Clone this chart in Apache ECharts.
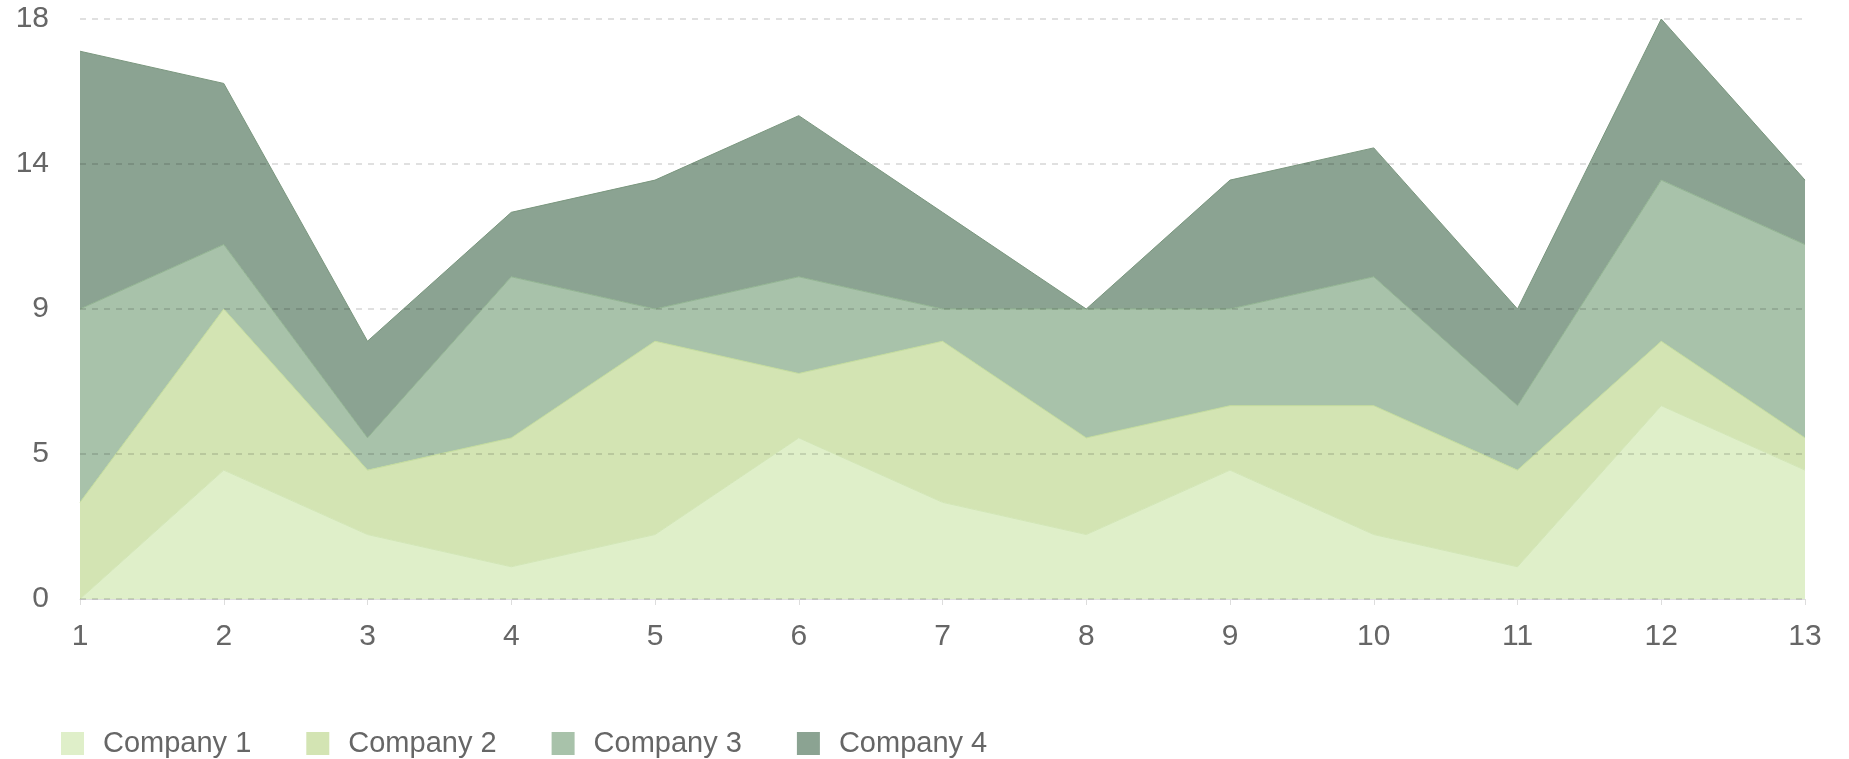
<!DOCTYPE html>
<html>
<head>
<meta charset="utf-8">
<script src="https://cdn.jsdelivr.net/npm/echarts@6/dist/echarts.min.js"></script>
<style>
  html, body { margin: 0; padding: 0; background: #fff; }
  #main { width: 1849px; height: 759px; }
</style>
</head>
<body>
<div id="main"></div>
<script>
// x categories
var categories = ['1', '2', '3', '4', '5', '6', '7', '8', '9', '10', '11', '12', '13'];
// series values (stacked)
var company1 = [0, 4, 2, 1, 2, 5, 3, 2, 4, 2, 1, 6, 4];
var company2 = [3, 5, 2, 4, 6, 2, 5, 3, 2, 4, 3, 2, 1];
var company3 = [6, 2, 1, 5, 1, 3, 1, 4, 3, 4, 2, 5, 6];
var company4 = [8, 5, 3, 2, 4, 5, 3, 0, 4, 4, 3, 5, 2];
var seriesNames = ['Company 1', 'Company 2', 'Company 3', 'Company 4'];
// y axis: 0 - 18 in steps of 4.5, labels rounded
var yMin = 0, yMax = 18, yStep = 4.5;

var fills = ['#dfefc9', '#d3e4b3', '#a8c2aa', '#8ba392'];
var strokes = ['#d2e6b6', '#c3dc9c', '#91b391', '#7b977f'];

var myChart = echarts.init(document.getElementById('main'));

function makeSeries(name, data, i) {
    return {
        name: name,
        type: 'line',
        stack: 'total',
        data: data,
        symbol: 'none',
        z: 2,
        lineStyle: { width: 1, color: strokes[i] },
        itemStyle: { color: fills[i] },
        areaStyle: { color: fills[i], opacity: 1 }
    };
}

myChart.setOption({
    animation: false,
    textStyle: { fontFamily: 'Liberation Sans, Arial, sans-serif' },
    grid: { left: 80, right: 44, top: 19, bottom: 160 },
    legend: {
        left: 61,
        top: 729,
        padding: 0,
        icon: 'rect',
        itemWidth: 23,
        itemHeight: 23,
        itemGap: 55,
        textStyle: { color: '#666', fontSize: 29, padding: [0, 0, 0, 14] },
        data: seriesNames
    },
    xAxis: {
        type: 'category',
        boundaryGap: false,
        data: categories,
        axisLine: { lineStyle: { color: '#dddddd', width: 1 } },
        axisTick: { show: true, length: 6, lineStyle: { color: '#dddddd' } },
        axisLabel: { color: '#666', fontSize: 30, margin: 23 }
    },
    yAxis: {
        type: 'value',
        min: yMin,
        max: yMax,
        interval: yStep,
        z: 3,
        axisLine: { show: false },
        axisTick: { show: false },
        axisLabel: {
            color: '#666',
            fontSize: 30,
            margin: 31,
            formatter: function (v) { return Math.round(v); }
        },
        splitLine: {
            lineStyle: { color: 'rgba(0,0,0,0.12)', type: [6, 6], width: 2 }
        }
    },
    series: [
        makeSeries(seriesNames[0], company1, 0),
        makeSeries(seriesNames[1], company2, 1),
        makeSeries(seriesNames[2], company3, 2),
        makeSeries(seriesNames[3], company4, 3)
    ]
});
</script>
</body>
</html>
